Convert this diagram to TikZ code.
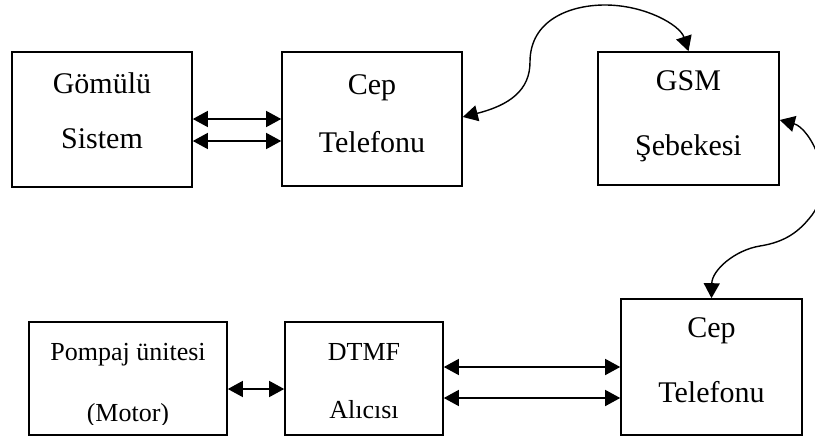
\documentclass[tikz,border=0pt]{standalone}
\usepackage{fontspec}
\setmainfont{Liberation Serif}
\usetikzlibrary{arrows.meta}
\begin{document}
\begin{tikzpicture}[x=1pt,y=-1pt,
  box/.style={draw,line width=1.6pt,inner sep=0pt},
  lbl/.style={anchor=base,inner sep=0pt,font=\fontsize{30}{36}\selectfont},
  lbls/.style={anchor=base,inner sep=0pt,font=\fontsize{26}{31}\selectfont},
  link/.style={line width=1.4pt,{Triangle[length=15pt,width=16pt]}-{Triangle[length=15pt,width=16pt]}}]
\useasboundingbox (0,0) rectangle (815,437);
% boxes
\node[box,minimum width=180pt,minimum height=135pt] (gs) at (102,119.5) {};
\node[box,minimum width=180pt,minimum height=134pt] (cp1) at (372,119) {};
\node[box,minimum width=181pt,minimum height=133pt] (gsm) at (688.5,118.5) {};
\node[box,minimum width=181pt,minimum height=136pt] (cp2) at (711.5,367) {};
\node[box,minimum width=198pt,minimum height=113pt] (pm) at (128,378.5) {};
\node[box,minimum width=158pt,minimum height=113pt] (dt) at (364,378.5) {};
% labels
\node[lbl] (gsa) at (102,93) {Gömülü};
\node[lbl] (gsb) at (102,148) {Sistem};
\node[lbl] (cp1a) at (372,94) {Cep};
\node[lbl] (cp1b) at (372,152) {Telefonu};
\node[lbl] (gsma) at (688.5,90) {GSM};
\node[lbl] (gsmb) at (688.5,155) {Şebekesi};
\node[lbl] (cp2a) at (711.5,337) {Cep};
\node[lbl] (cp2b) at (711.5,402) {Telefonu};
\node[lbls] (pma) at (128,360) {Pompaj ünitesi};
\begin{scope}
\clip (29,322) rectangle (227,424);
\node[lbls] (pmb) at (128,421) {(Motor)};
\end{scope}
\node[lbls] (dta) at (364,360) {DTMF};
\node[lbls] (dtb) at (364,418) {Alıcısı};
% straight links
\draw[link] (gs.east |- 0,119) -- (cp1.west |- 0,119);
\draw[link] (gs.east |- 0,141) -- (cp1.west |- 0,141);
\draw[link] (pm.east |- 0,389) -- (dt.west |- 0,389);
\draw[link] (dt.east |- 0,367) -- (cp2.west |- 0,367);
\draw[link] (dt.east |- 0,398) -- (cp2.west |- 0,398);
% curved links
\draw[link] (cp1.east |- 0,117)
  .. controls (510,105) and (530,90) .. (530,62)
  .. controls (530,20) and (570,5) .. (605,5)
  .. controls (645,5) and (680,25) .. (gsm.north);
\draw[link] (gsm.east |- 0,120)
  .. controls (810,128) and (838,180) .. (812,215)
  .. controls (799,232) and (785,242) .. (760,246)
  .. controls (735,250) and (712,270) .. (cp2.north);
\end{tikzpicture}
\end{document}
